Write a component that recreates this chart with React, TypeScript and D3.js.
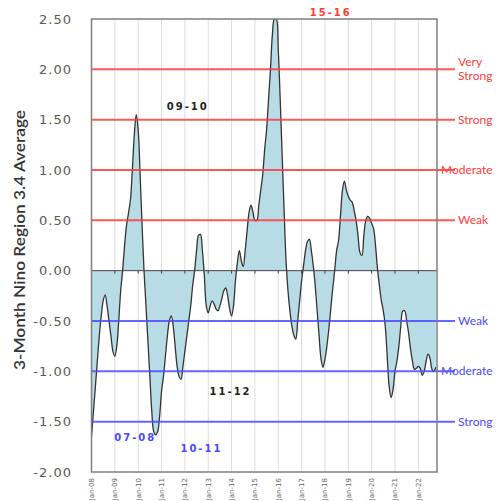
import React from 'react';
import * as d3 from 'd3';

// 3-month ONI values, monthly from Jan-08
const oni2008 = [-1.65, -1.4, -1.15, -0.9, -0.65, -0.45, -0.3, -0.24, -0.35, -0.5, -0.65, -0.8];
const oni2009 = [-0.85, -0.75, -0.5, -0.2, 0.0, 0.25, 0.45, 0.57, 0.7, 1.0, 1.35, 1.55];
const oni2010 = [1.4, 0.95, 0.45, 0.0, -0.35, -0.7, -1.05, -1.4, -1.6, -1.63, -1.6, -1.45];
const oni2011 = [-1.2, -1.05, -0.85, -0.65, -0.5, -0.45, -0.55, -0.75, -0.95, -1.05, -1.08, -0.95];
const oni2012 = [-0.8, -0.65, -0.5, -0.35, -0.15, 0.0, 0.2, 0.35, 0.36, 0.2, -0.05, -0.35];
const oni2013 = [-0.42, -0.35, -0.3, -0.33, -0.38, -0.4, -0.35, -0.28, -0.2, -0.17, -0.25, -0.38];
const oni2014 = [-0.45, -0.35, -0.1, 0.08, 0.2, 0.1, 0.04, 0.2, 0.4, 0.58, 0.65, 0.58];
const oni2015 = [0.5, 0.5, 0.65, 0.8, 0.95, 1.2, 1.4, 1.7, 2.0, 2.35, 2.5, 2.5];
const oni2016 = [2.2, 1.7, 1.15, 0.6, 0.1, -0.2, -0.4, -0.55, -0.64, -0.68, -0.5, -0.3];
const oni2017 = [-0.1, 0.05, 0.2, 0.29, 0.31, 0.2, 0.05, -0.15, -0.4, -0.65, -0.88, -0.96];
const oni2018 = [-0.88, -0.75, -0.58, -0.38, -0.18, 0.0, 0.2, 0.3, 0.55, 0.8, 0.89, 0.8];
const oni2019 = [0.74, 0.7, 0.68, 0.6, 0.5, 0.35, 0.18, 0.15, 0.35, 0.5, 0.54, 0.52];
const oni2020 = [0.47, 0.42, 0.25, 0.02, -0.15, -0.3, -0.4, -0.55, -0.85, -1.15, -1.26, -1.18];
const oni2021 = [-1.0, -0.9, -0.75, -0.55, -0.4, -0.4, -0.5, -0.62, -0.78, -0.9, -0.98, -0.97];
const oni2022 = [-0.95, -0.97, -1.04, -1.0, -0.9, -0.83, -0.87, -0.98, -1.0, -0.96];

const oni = [
  ...oni2008, ...oni2009, ...oni2010, ...oni2011, ...oni2012,
  ...oni2013, ...oni2014, ...oni2015, ...oni2016, ...oni2017,
  ...oni2018, ...oni2019, ...oni2020, ...oni2021, ...oni2022,
];

const yearLabels = ['Jan-08', 'Jan-09', 'Jan-10', 'Jan-11', 'Jan-12', 'Jan-13', 'Jan-14', 'Jan-15',
  'Jan-16', 'Jan-17', 'Jan-18', 'Jan-19', 'Jan-20', 'Jan-21', 'Jan-22'];
const yTicks = [2.5, 2.0, 1.5, 1.0, 0.5, 0.0, -0.5, -1.0, -1.5, -2.0];

const elNinoLevels = [0.5, 1.0, 1.5, 2.0];
const elNinoNames = ['Weak', 'Moderate', 'Strong', 'Very Strong'];
const laNinaLevels = [-0.5, -1.0, -1.5];
const laNinaNames = ['Weak', 'Moderate', 'Strong'];

const seasons = ['15-16', '09-10', '11-12', '07-08', '10-11'];
const seasonKind = ['nino', 'neutral', 'neutral', 'nina', 'nina'];
const seasonMonth = [123, 49.5, 71.5, 22.5, 56.5];
const seasonValue = [2.53, 1.6, -1.24, -1.69, -1.8];

const W = 496;
const H = 501;
const left = 91.5;
const right = 437;
const top = 19;
const bottom = 472;

const RED = '#ff3b3b';
const BLUE = '#4a4aff';

export default function App() {
  const x = d3.scaleLinear().domain([0, 177.6]).range([left, right]);
  const y = d3.scaleLinear().domain([-2, 2.5]).range([bottom, top]);

  const area = d3.area<number>()
    .x((_, i) => x(i))
    .y0(y(0))
    .y1(d => y(d))
    .curve(d3.curveCatmullRom.alpha(0.5));
  const line = d3.line<number>()
    .x((_, i) => x(i))
    .y(d => y(d))
    .curve(d3.curveCatmullRom.alpha(0.5));

  const labelFont = 'Lato, "Open Sans", sans-serif';
  const levelLabel = (name: string, v: number, color: string) => {
    const lx = name === 'Moderate' ? 441 : 458;
    if (name === 'Very Strong') {
      return (
        <text key={name + v} fill={color} fontSize={12} fontFamily={labelFont}>
          <tspan x={lx} y={y(v) - 3}>Very</tspan>
          <tspan x={lx} y={y(v) + 11}>Strong</tspan>
        </text>
      );
    }
    return (
      <text key={name + v} x={lx} y={y(v) + 4} fill={color} fontSize={12} fontFamily={labelFont}>{name}</text>
    );
  };

  return (
    <svg width={W} height={H} style={{ position: 'absolute', left: 0, top: 0, background: '#fff' }}>
      <defs>
        <clipPath id="plot">
          <rect x={left} y={top} width={right - left} height={bottom - top} />
        </clipPath>
      </defs>

      {/* vertical gridlines */}
      {yearLabels.map((_, i) => (
        <line key={'g' + i} x1={x(i * 12)} x2={x(i * 12)} y1={top} y2={bottom} stroke="#dcdcdc" strokeWidth={1} />
      ))}

      <g clipPath="url(#plot)">
        <path d={area(oni) ?? ''} fill="#b7dce6" />
        <path d={line(oni) ?? ''} fill="none" stroke="#333" strokeWidth={1.3} />
      </g>

      {/* zero axis with ticks */}
      <line x1={left} x2={right} y1={y(0)} y2={y(0)} stroke="#444" strokeWidth={1} />
      {yearLabels.map((_, i) => (
        <line key={'t' + i} x1={x(i * 12)} x2={x(i * 12)} y1={y(0)} y2={y(0) + 3} stroke="#444" strokeWidth={1} />
      ))}

      {/* strength thresholds */}
      {elNinoLevels.map(v => (
        <line key={'r' + v} x1={left} x2={455} y1={y(v)} y2={y(v)} stroke={RED} strokeOpacity={0.85} strokeWidth={2} />
      ))}
      {laNinaLevels.map(v => (
        <line key={'b' + v} x1={left} x2={455} y1={y(v)} y2={y(v)} stroke={BLUE} strokeOpacity={0.85} strokeWidth={2} />
      ))}
      {elNinoLevels.map((v, i) => levelLabel(elNinoNames[i], v, RED))}
      {laNinaLevels.map((v, i) => levelLabel(laNinaNames[i], v, BLUE))}

      {/* plot frame */}
      <rect x={left} y={top} width={right - left} height={bottom - top} fill="none" stroke="#7f7f7f" strokeWidth={1.5} />

      {/* y axis */}
      {yTicks.map(v => (
        <text key={'y' + v} x={72} y={y(v) + 4.5} textAnchor="end" fill="#595959" fontSize={13}
          fontFamily='"DejaVu Sans", sans-serif' letterSpacing={1}>{v.toFixed(2)}</text>
      ))}
      <text transform="translate(25,240) rotate(-90)" textAnchor="middle" fill="#333"
        fontSize={16} fontWeight={600} fontFamily={labelFont} textLength={260} lengthAdjust="spacingAndGlyphs">
        3-Month Nino Region 3.4 Average
      </text>

      {/* x axis labels */}
      {yearLabels.map((lab, i) => (
        <text key={'x' + i} transform={`translate(${x(i * 12) + 2.5},478) rotate(-90)`} textAnchor="end"
          fill="#666" fontSize={7} fontFamily='"DejaVu Sans", sans-serif'>{lab}</text>
      ))}

      {/* season annotations */}
      {seasons.map((s, i) => (
        <text key={s} x={x(seasonMonth[i])} y={y(seasonValue[i])} textAnchor="middle" fontSize={10} fontWeight="bold"
          letterSpacing={2} fontFamily='"DejaVu Sans", sans-serif'
          fill={seasonKind[i] === 'nino' ? RED : seasonKind[i] === 'nina' ? BLUE : '#222'}>{s}</text>
      ))}
    </svg>
  );
}
